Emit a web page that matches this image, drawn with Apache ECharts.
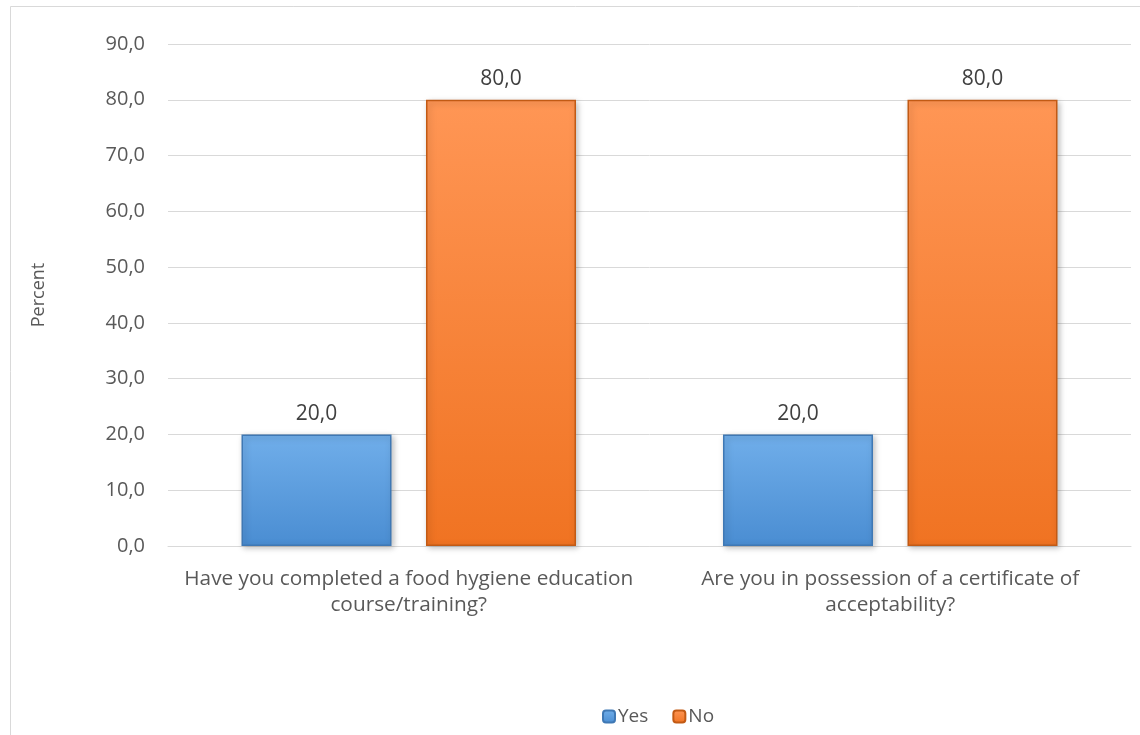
<!DOCTYPE html>
<html>
<head>
<meta charset="utf-8">
<script src="https://cdn.jsdelivr.net/npm/echarts@6/dist/echarts.min.js"></script>
<style>
  html, body { margin: 0; padding: 0; background: #fff; }
  #chart { width: 1140px; height: 735px; }
</style>
</head>
<body>
<div id="chart"></div>
<script>
// Survey questions and answer shares (percent)
const categories = [
  'Have you completed a food hygiene education\ncourse/training?',
  'Are you in possession of a certificate of\nacceptability?'
];
const yesValues = [20.0, 20.0];
const noValues = [80.0, 80.0];
const seriesNames = ['Yes', 'No'];

const fmt = v => v.toFixed(1).replace('.', ',');

function barStyle(top, bottom, edge) {
  return {
    color: {
      type: 'linear', x: 0, y: 0, x2: 0, y2: 1,
      colorStops: [{ offset: 0, color: top }, { offset: 1, color: bottom }]
    },
    borderColor: edge,
    borderWidth: 1.5,
    shadowColor: 'rgba(0,0,0,0.25)',
    shadowBlur: 6,
    shadowOffsetX: 2,
    shadowOffsetY: 2
  };
}

const chart = echarts.init(document.getElementById('chart'));
chart.setOption({
  animation: false,
  textStyle: { fontFamily: '"Open Sans", "Noto Sans", sans-serif' },
  graphic: [{
    type: 'rect',
    shape: { x: 10.5, y: 6.5, width: 1140, height: 740 },
    style: { fill: 'none', stroke: '#d9d9d9', lineWidth: 1 },
    silent: true
  }],
  grid: { left: 168, right: 9, top: 44, bottom: 189, containLabel: false },
  legend: {
    data: seriesNames,
    top: 702,
    left: 597,
    itemWidth: 12,
    itemHeight: 12,
    itemGap: 24,
    textStyle: { color: '#595959', fontSize: 19, padding: [0, 0, 0, -2] }
  },
  xAxis: {
    type: 'category',
    data: categories,
    axisLine: { lineStyle: { color: '#d9d9d9' } },
    axisTick: { show: false },
    axisLabel: { color: '#595959', fontSize: 20.8, lineHeight: 26, margin: 20, interval: 0 }
  },
  yAxis: {
    type: 'value',
    min: 0, max: 90, interval: 10,
    name: 'Percent',
    nameLocation: 'middle',
    nameGap: 120,
    nameRotate: 90,
    nameTextStyle: { color: '#595959', fontSize: 18 },
    axisLine: { show: false },
    axisTick: { show: false },
    splitLine: { lineStyle: { color: '#d9d9d9', width: 1 } },
    axisLabel: { color: '#595959', fontSize: 20, margin: 23, formatter: v => fmt(v) }
  },
  series: [
    {
      name: seriesNames[0],
      type: 'bar',
      data: yesValues,
      barWidth: 150,
      barGap: '23%',
      itemStyle: barStyle('#70aeea', '#4a8dd2', '#3f78b4'),
      label: { show: true, position: 'top', distance: 10, color: '#404040', fontSize: 21, formatter: p => fmt(p.value) }
    },
    {
      name: seriesNames[1],
      type: 'bar',
      data: noValues,
      barWidth: 150,
      itemStyle: barStyle('#ff9655', '#f07322', '#c25a14'),
      label: { show: true, position: 'top', distance: 10, color: '#404040', fontSize: 21, formatter: p => fmt(p.value) }
    }
  ]
});
</script>
</body>
</html>
